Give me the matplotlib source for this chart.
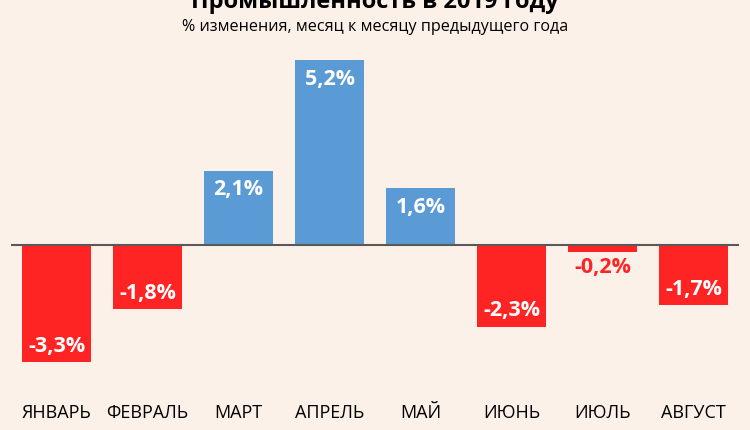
import matplotlib.pyplot as plt

# данные
months = ['ЯНВАРЬ', 'ФЕВРАЛЬ', 'МАРТ', 'АПРЕЛЬ', 'МАЙ', 'ИЮНЬ', 'ИЮЛЬ', 'АВГУСТ']
change = [-3.3, -1.8, 2.1, 5.2, 1.6, -2.3, -0.2, -1.7]
labels = ['-3,3%', '-1,8%', '2,1%', '5,2%', '1,6%', '-2,3%', '-0,2%', '-1,7%']

bg = '#FCF1E8'
blue = '#5B9BD5'
red = '#FF2424'
fam = ['Open Sans', 'DejaVu Sans']

fig = plt.figure(figsize=(7.5, 4.3), dpi=100, facecolor=bg)
ax = fig.add_axes([0.0147, 0.1163, 0.9707, 0.767])
ax.set_facecolor(bg)

colors = [blue if v > 0 else red for v in change]
bars = ax.bar(range(len(months)), change, width=0.75, color=colors, zorder=2)
ax.axhline(0, color='#595959', lw=1.5, zorder=3)

for b, v, lab in zip(bars, change, labels):
    x = b.get_x() + b.get_width() / 2
    if v > 0:
        ax.annotate(lab, (x, v), xytext=(0, -14), textcoords='offset points',
                    ha='center', va='center', color='white', fontsize=15.5,
                    fontweight='bold', family=fam)
    elif v > -0.5:
        # маленький столбик - подпись снизу
        ax.annotate(lab, (x, v), xytext=(0, -11), textcoords='offset points',
                    ha='center', va='center', color=red, fontsize=15.5,
                    fontweight='bold', family=fam)
    else:
        ax.annotate(lab, (x, v), xytext=(0, 11.5), textcoords='offset points',
                    ha='center', va='center', color='white', fontsize=15.5,
                    fontweight='bold', family=fam)

ax.set_xlim(-0.5, 7.5)
ax.set_ylim(-3.80, 5.49)
ax.set_xticks(range(len(months)))
ax.set_xticklabels(months, fontsize=13, family=fam)
ax.tick_params(axis='x', length=0, pad=17)
ax.set_yticks([])
for s in ax.spines.values():
    s.set_visible(False)

# заголовок обрезан сверху, как в оригинале
fig.text(0.5, 1 - 8 / 430, 'Промышленность в 2019 году', ha='center', va='baseline',
         fontsize=17, fontweight='bold', family=fam)
fig.text(0.5, 1 - 31 / 430, '% изменения, месяц к месяцу предыдущего года',
         ha='center', va='baseline', fontsize=11.6, family=fam)

fig.savefig('out.png', dpi=100, facecolor=bg)
